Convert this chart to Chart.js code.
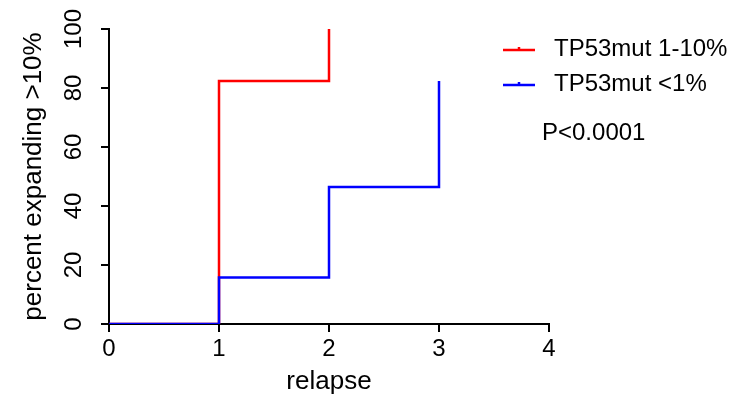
<!DOCTYPE html>
<html>
  <head>
    <title>relapse</title>
    <script src="https://cdn.jsdelivr.net/npm/chart.js@4.4.1/dist/chart.umd.min.js"></script>
    <style>
    body{
    	margin: 0;
    	background-color: white;
    }
    .container{
    	width: 730px;
    	height: 398px;
    }
  	</style>
  </head>
  <body>

    <div class='container'>
      <canvas id="relapse-chart"></canvas>
    </div>

  <script type="text/javascript">

  var FONT = "'Liberation Sans', Arial, sans-serif";

  // cumulative steps
  var relapse = [0, 1, 2, 3];
  var mutHigh = [0, 82.4, 100];          // TP53mut 1-10%
  var mutLow = [0, 15.8, 46.4, 82.4];    // TP53mut <1%

  var seriesNames = ["TP53mut 1-10%", "TP53mut <1%"];
  var seriesColors = ["#ff0000", "#0000ff"];
  var pText = "P<0.0001";

  function points(vals){
  	return vals.map(function(v, i){ return {x: relapse[i], y: v}; });
  }

  // y tick labels are drawn turned, legend and P value by hand
  var extras = {
  	id: 'extras',
  	afterDraw: function(chart){
  		var ctx = chart.ctx;
  		var y = chart.scales.y;
  		ctx.save();
  		ctx.fillStyle = '#000';
  		ctx.font = '24px ' + FONT;
  		ctx.textAlign = 'center';
  		ctx.textBaseline = 'middle';
  		y.ticks.forEach(function(t){
  			var py = y.getPixelForValue(t.value);
  			ctx.save();
  			ctx.translate(74, py);
  			ctx.rotate(-Math.PI / 2);
  			ctx.fillText(String(t.value), 0, 0);
  			ctx.restore();
  		});

  		// legend
  		ctx.textAlign = 'left';
  		for (var i = 0; i < seriesNames.length; i++) {
  			var ly = 50 + i * 35;
  			ctx.strokeStyle = seriesColors[i];
  			ctx.lineWidth = 2.5;
  			ctx.beginPath();
  			ctx.moveTo(503, ly);
  			ctx.lineTo(535, ly);
  			ctx.moveTo(519, ly);
  			ctx.lineTo(519, ly - 3);
  			ctx.stroke();
  			ctx.fillText(seriesNames[i], 554, ly - 1);
  		}
  		ctx.fillText(pText, 542, 133);
  		ctx.restore();
  	}
  };

  var ctx = document.getElementById("relapse-chart").getContext("2d");

  new Chart(ctx, {
  	type: 'line',
  	data: {
  		datasets: [{
  			label: seriesNames[0],
  			data: points(mutHigh),
  			borderColor: seriesColors[0],
  			borderWidth: 2.5,
  			stepped: true,
  			pointRadius: 0,
  			fill: false,
  			order: 2
  		}, {
  			label: seriesNames[1],
  			data: points(mutLow),
  			borderColor: seriesColors[1],
  			borderWidth: 2.5,
  			stepped: true,
  			pointRadius: 0,
  			fill: false,
  			order: 1
  		}]
  	},
  	options: {
  		responsive: true,
  		maintainAspectRatio: false,
  		animation: false,
  		layout: { padding: { top: 29, right: 181, left: 0, bottom: 0 } },
  		plugins: {
  			legend: { display: false },
  			tooltip: { enabled: false }
  		},
  		scales: {
  			x: {
  				type: 'linear',
  				min: 0,
  				max: 4,
  				afterFit: function(s){ s.height = 74; },
  				border: { display: true, color: '#000', width: 2 },
  				grid: { drawOnChartArea: false, color: '#000', lineWidth: 2, tickLength: 8 },
  				ticks: { stepSize: 1, color: '#000', padding: 3, font: { family: FONT, size: 24 } },
  				title: { display: true, text: 'relapse', color: '#000', padding: { top: 0, bottom: 1 }, font: { family: FONT, size: 26 } }
  			},
  			y: {
  				min: 0,
  				max: 100,
  				afterFit: function(s){ s.width = 109; },
  				border: { display: true, color: '#000', width: 2 },
  				grid: { drawOnChartArea: false, color: '#000', lineWidth: 2, tickLength: 8 },
  				ticks: { stepSize: 20, display: false },
  				title: { display: true, text: 'percent expanding >10%', color: '#000', padding: { top: 18, bottom: 0 }, font: { family: FONT, size: 26 } }
  			}
  		}
  	},
  	plugins: [extras]
  });

  </script>
  </body>
</html>
